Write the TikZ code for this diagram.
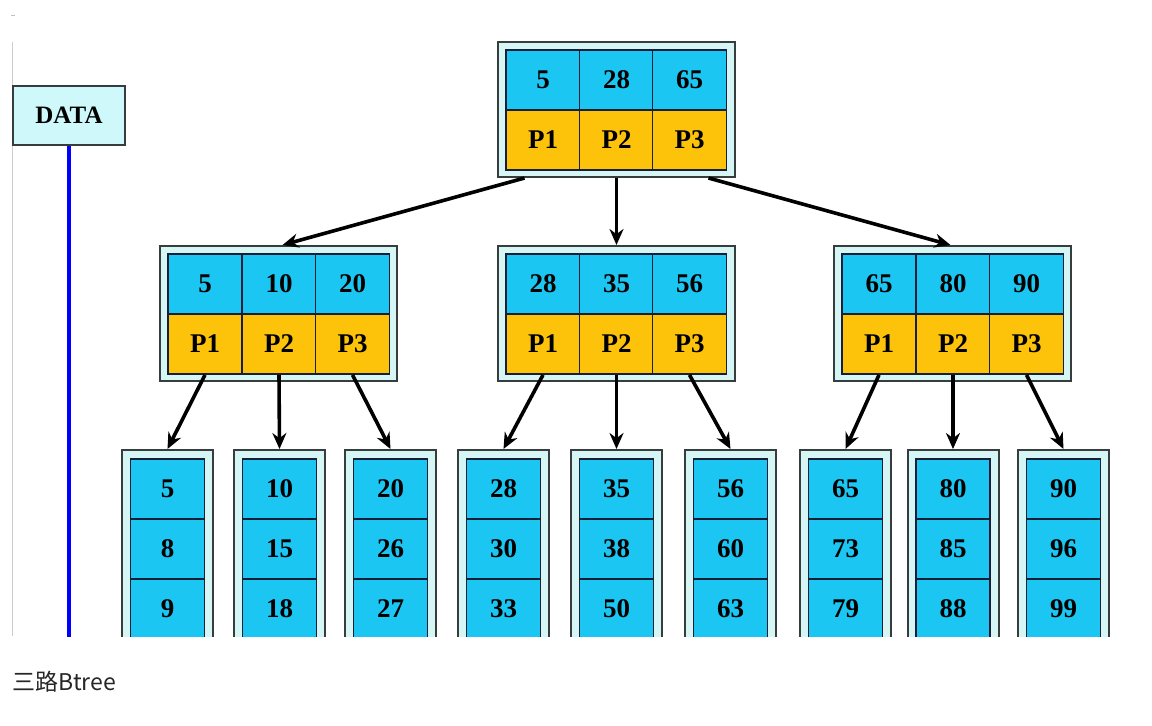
\documentclass[tikz,border=0pt]{standalone}
\usepackage{fontspec}
\setmainfont{Liberation Serif}
\newfontfamily\cjk{Noto Sans CJK SC}
\usepackage{tikz}
\usetikzlibrary{positioning, arrows.meta}
\definecolor{keyblue}{RGB}{28,198,242}
\definecolor{ptryellow}{RGB}{253,195,10}
\definecolor{framefill}{RGB}{214,246,246}
\definecolor{datafill}{RGB}{206,248,250}
\definecolor{cellline}{RGB}{25,30,55}
\definecolor{frameline}{RGB}{55,60,60}
\tikzset{
  frame/.style={draw=frameline, fill=framefill, line width=1pt, inner sep=0pt},
  keycell/.style={draw=cellline, fill=keyblue, line width=0.9pt, inner sep=0pt,
    minimum width=37pt, minimum height=30pt, font=\bfseries\fontsize{13.5}{15}\selectfont},
  ptrcell/.style={keycell, fill=ptryellow},
  link/.style={line width=1.8pt, -{Stealth[length=8pt,width=7pt]}}
}

\begin{document}
\begin{tikzpicture}[x=0.5pt, y=-0.5pt]
			\useasboundingbox (0,0) rectangle (1152,725);
			
			\begin{scope}
			\clip (0,0) rectangle (1152,636);
			%left edge
			\draw[gray!40, line width=0.5pt] (12,42) -- (12,636);
			\draw[gray!50, line width=0.5pt] (11,15) -- (15,15);
			
			%DATA
			\node[draw=frameline, fill=datafill, line width=0.9pt, minimum width=56pt, minimum height=29.5pt,
			font=\bfseries\fontsize{12.5}{14}\selectfont] (data) at (69,115.5) {DATA};
			\coordinate (dataend) at (69,640);
			\draw[blue, line width=1.6pt] (data.south) -- (dataend);
			
			%root
			\node[frame, minimum width=118.5pt, minimum height=67.5pt] (root) at (616.5,109.5) {};
			\node[keycell] (rk1) at (543,80) {5};
			\node[keycell] (rk2) at (616.5,80) {28};
			\node[keycell] (rk3) at (689.5,80) {65};
			\node[ptrcell] (rp1) at (543,140) {P1};
			\node[ptrcell] (rp2) at (616.5,140) {P2};
			\node[ptrcell] (rp3) at (689.5,140) {P3};
			
			%level 1
			\node[frame, minimum width=118.5pt, minimum height=67.5pt] (m1) at (278.5,313.5) {};
			\node[keycell] (m1k1) at (205,284) {5};
			\node[keycell] (m1k2) at (279,284) {10};
			\node[keycell] (m1k3) at (352.5,284) {20};
			\node[ptrcell] (m1p1) at (205,344) {P1};
			\node[ptrcell] (m1p2) at (279,344) {P2};
			\node[ptrcell] (m1p3) at (352.5,344) {P3};
			
			\node[frame, minimum width=118.5pt, minimum height=67.5pt] (m2) at (616.5,313.5) {};
			\node[keycell] (m2k1) at (543,284) {28};
			\node[keycell] (m2k2) at (616.5,284) {35};
			\node[keycell] (m2k3) at (689.5,284) {56};
			\node[ptrcell] (m2p1) at (543,344) {P1};
			\node[ptrcell] (m2p2) at (616.5,344) {P2};
			\node[ptrcell] (m2p3) at (689.5,344) {P3};
			
			\node[frame, minimum width=118.5pt, minimum height=67.5pt] (m3) at (952.5,313.5) {};
			\node[keycell] (m3k1) at (879,284) {65};
			\node[keycell] (m3k2) at (953,284) {80};
			\node[keycell] (m3k3) at (1026.5,284) {90};
			\node[ptrcell] (m3p1) at (879,344) {P1};
			\node[ptrcell] (m3p2) at (953,344) {P2};
			\node[ptrcell] (m3p3) at (1026.5,344) {P3};
			
			%leaves
			\node[frame, minimum width=45.5pt, minimum height=99pt] (l1) at (167.5,549) {};
			\node[keycell] (l1a) at (167.5,489) {5};
			\node[keycell] (l1b) at (167.5,549) {8};
			\node[keycell] (l1c) at (167.5,609) {9};
			
			\node[frame, minimum width=45.5pt, minimum height=99pt] (l2) at (279.5,549) {};
			\node[keycell] (l2a) at (279.5,489) {10};
			\node[keycell] (l2b) at (279.5,549) {15};
			\node[keycell] (l2c) at (279.5,609) {18};
			
			\node[frame, minimum width=45.5pt, minimum height=99pt] (l3) at (390.5,549) {};
			\node[keycell] (l3a) at (390.5,489) {20};
			\node[keycell] (l3b) at (390.5,549) {26};
			\node[keycell] (l3c) at (390.5,609) {27};
			
			\node[frame, minimum width=45.5pt, minimum height=99pt] (l4) at (503.5,549) {};
			\node[keycell] (l4a) at (503.5,489) {28};
			\node[keycell] (l4b) at (503.5,549) {30};
			\node[keycell] (l4c) at (503.5,609) {33};
			
			\node[frame, minimum width=45.5pt, minimum height=99pt] (l5) at (616.5,549) {};
			\node[keycell] (l5a) at (616.5,489) {35};
			\node[keycell] (l5b) at (616.5,549) {38};
			\node[keycell] (l5c) at (616.5,609) {50};
			
			\node[frame, minimum width=45.5pt, minimum height=99pt] (l6) at (730.5,549) {};
			\node[keycell] (l6a) at (730.5,489) {56};
			\node[keycell] (l6b) at (730.5,549) {60};
			\node[keycell] (l6c) at (730.5,609) {63};
			
			\node[frame, minimum width=45.5pt, minimum height=99pt] (l7) at (845.5,549) {};
			\node[keycell] (l7a) at (845.5,489) {65};
			\node[keycell] (l7b) at (845.5,549) {73};
			\node[keycell] (l7c) at (845.5,609) {79};
			
			\node[frame, minimum width=45.5pt, minimum height=99pt] (l8) at (953,549) {};
			\node[keycell] (l8a) at (953,489) {80};
			\node[keycell] (l8b) at (953,549) {85};
			\node[keycell] (l8c) at (953,609) {88};
			
			\node[frame, minimum width=45.5pt, minimum height=99pt] (l9) at (1063.5,549) {};
			\node[keycell] (l9a) at (1063.5,489) {90};
			\node[keycell] (l9b) at (1063.5,549) {96};
			\node[keycell] (l9c) at (1063.5,609) {99};
			
			%arrows
			\draw[link] ([xshift=-46pt]root.south) -- ([xshift=2pt]m1.north);
			\draw[link] (root.south) -- (m2.north);
			\draw[link] ([xshift=46pt]root.south) -- ([xshift=-1pt]m3.north);
			
			\draw[link] (m1p1.south) -- (l1.north);
			\draw[link] (m1p2.south) -- (l2.north);
			\draw[link] (m1p3.south) -- (l3.north);
			\draw[link] (m2p1.south) -- (l4.north);
			\draw[link] (m2p2.south) -- (l5.north);
			\draw[link] (m2p3.south) -- (l6.north);
			\draw[link] (m3p1.south) -- (l7.north);
			\draw[link] (m3p2.south) -- (l8.north);
			\draw[link] (m3p3.south) -- (l9.north);
			\end{scope}
			
			%caption
			\node[anchor=base west, inner sep=0pt, text=black!85, font=\cjk\fontsize{11.5}{13}\selectfont] (caption) at (12,690) {三路Btree};
		\end{tikzpicture}
\end{document}
